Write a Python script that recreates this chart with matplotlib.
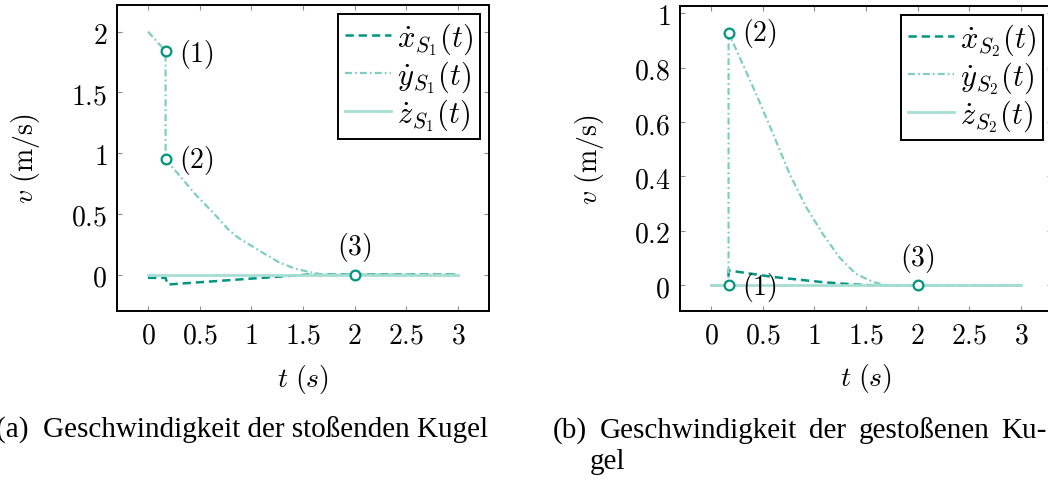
import matplotlib
matplotlib.use("Agg")
import matplotlib.pyplot as plt

plt.rcParams["mathtext.fontset"] = "cm"
plt.rcParams["lines.scale_dashes"] = False

# ---- data: striking sphere S1 ----
t_x1 = [0.0, 0.17, 0.19, 1.55, 3.0]
v_x1 = [-0.027, -0.027, -0.082, 0.0, 0.0]
t_y1 = [0.0, 0.17, 0.17, 0.47, 0.63, 0.79, 0.88, 1.11, 1.27, 1.43, 1.60, 1.70, 3.0]
v_y1 = [2.0, 1.84, 0.95, 0.65, 0.51, 0.36, 0.30, 0.18, 0.10, 0.047, 0.014, 0.0, 0.0]
t_z1 = [0.0, 3.0]
v_z1 = [0.0, 0.0]
pts1_t = [0.17, 0.17, 2.0]
pts1_v = [1.84, 0.95, 0.0]
pts1_lbl = ["(1)", "(2)", "(3)"]

# ---- data: struck sphere S2 ----
t_x2 = [0.0, 0.17, 0.17, 0.60, 1.08, 1.40, 1.60, 3.0]
v_x2 = [0.0, 0.0, 0.055, 0.031, 0.012, 0.003, 0.0, 0.0]
t_y2 = [0.0, 0.17, 0.17, 0.44, 0.60, 0.76, 0.92, 1.08, 1.24, 1.40, 1.57, 1.70, 3.0]
v_y2 = [0.0, 0.0, 0.928, 0.70, 0.557, 0.41, 0.288, 0.19, 0.104, 0.043, 0.012, 0.0, 0.0]
t_z2 = [0.0, 3.0]
v_z2 = [0.0, 0.0]
pts2_t = [0.17, 0.17, 2.0]
pts2_v = [0.0, 0.928, 0.0]
pts2_lbl = ["(1)", "(2)", "(3)"]

x_ticks = [0, 0.5, 1, 1.5, 2, 2.5, 3]
x_tick_labels = ["0", "0.5", "1", "1.5", "2", "2.5", "3"]
y1_ticks = [0, 0.5, 1, 1.5, 2]
y1_tick_labels = ["0", "0.5", "1", "1.5", "2"]
y2_ticks = [0, 0.2, 0.4, 0.6, 0.8, 1]
y2_tick_labels = ["0", "0.2", "0.4", "0.6", "0.8", "1"]

caption_a = "(a)  Geschwindigkeit der stoßenden Kugel"
caption_b_line1 = ["(b)", "Geschwindigkeit", "der", "gestoßenen", "Ku-"]
caption_b_line2 = "gel"

DARK = "#00957f"
MID = "#7fcebf"
LIGHT = "#a6ded4"
FS = 20
LFS = 22

fig = plt.figure(figsize=(10.48, 4.81), dpi=100)
W, H = 1048, 481


def px_axes(left, top, right, bottom):
    return fig.add_axes([left / W, 1 - bottom / H, (right - left) / W, (bottom - top) / H])


ax1 = px_axes(117, 6, 489, 312)
ax2 = px_axes(680, 7, 1052, 312)


def draw(ax, tx, vx, ty, vy, tz, vz, pt, pv, lbl, sub, ylim, yt, ytl, offsets):
    ax.plot(tx, vx, color=DARK, lw=1.8, linestyle=(0, (6, 3.5)),
            label=r"$\dot{x}_{S_%s}(t)$" % sub, zorder=2)
    ax.plot(ty, vy, color=MID, lw=1.6, linestyle=(0, (5, 2.2, 1.3, 2.2)),
            label=r"$\dot{y}_{S_%s}(t)$" % sub, zorder=3)
    ax.plot(tz, vz, color=LIGHT, lw=2.0, label=r"$\dot{z}_{S_%s}(t)$" % sub, zorder=4)
    ax.plot(pt, pv, linestyle="none", marker="o", ms=7, mfc="white",
            mec=DARK, mew=1.6, zorder=5)
    for t, v, s, off in zip(pt, pv, lbl, offsets):
        ax.annotate("$%s$" % s, (t, v), xytext=off, textcoords="offset points",
                    ha="center", va="center", fontsize=FS, zorder=6)
    ax.set_xlim(-0.3, 3.3)
    ax.set_ylim(*ylim)
    ax.set_xticks(x_ticks)
    ax.set_xticklabels(["$%s$" % s for s in x_tick_labels])
    ax.set_yticks(yt)
    ax.set_yticklabels(["$%s$" % s for s in ytl])
    ax.tick_params(direction="in", top=True, right=True, length=3.5, width=0.8,
                   color="#8c8c8c", labelsize=FS, pad=7)
    for sp in ax.spines.values():
        sp.set_linewidth(1.4)
    ax.set_xlabel(r"$t\ (s)$", fontsize=FS)
    ax.xaxis.set_label_coords(0.5, -0.219)
    ax.xaxis.label.set_va("center")
    ax.set_ylabel(r"$v\ (\mathrm{m/s})$", fontsize=FS)
    ax.yaxis.label.set_va("center")
    leg = ax.legend(loc="upper right", fontsize=LFS, frameon=True,
                    fancybox=False, edgecolor="black", framealpha=1,
                    handlelength=1.5, handletextpad=0.22, labelspacing=0.04,
                    borderpad=0.22, borderaxespad=0.28)
    leg.get_frame().set_linewidth(1.4)


draw(ax1, t_x1, v_x1, t_y1, v_y1, t_z1, v_z1, pts1_t, pts1_v, pts1_lbl, "1",
     (-0.30, 2.22), y1_ticks, y1_tick_labels, [(22, -2), (22, 0), (0, 20)])
ax1.yaxis.set_label_coords(-0.247, 0.5)
draw(ax2, t_x2, v_x2, t_y2, v_y2, t_z2, v_z2, pts2_t, pts2_v, pts2_lbl, "2",
     (-0.094, 1.026), y2_ticks, y2_tick_labels, [(22, -1), (22, 0), (0, 20)])
ax2.yaxis.set_label_coords(-0.242, 0.5)

# sub-figure captions
CAP = dict(family="Liberation Serif", fontsize=21, va="baseline")
fig.text(488 / W, 1 - 438 / H, caption_a, ha="right", **CAP)

# first line of caption (b) is justified between two edges
renderer = fig.canvas.get_renderer()
left_px, right_px = 553, 1047
words = [fig.text(0, 1 - 438 / H, w, ha="left", **CAP) for w in caption_b_line1]
widths = [t.get_window_extent(renderer).width for t in words]
gap = (right_px - left_px - sum(widths)) / (len(words) - 1)
x = left_px
for t, w in zip(words, widths):
    t.set_x(x / W)
    x += w + gap
fig.text(590 / W, 1 - 469 / H, caption_b_line2, ha="left", **CAP)

fig.savefig("out.png", dpi=100)
